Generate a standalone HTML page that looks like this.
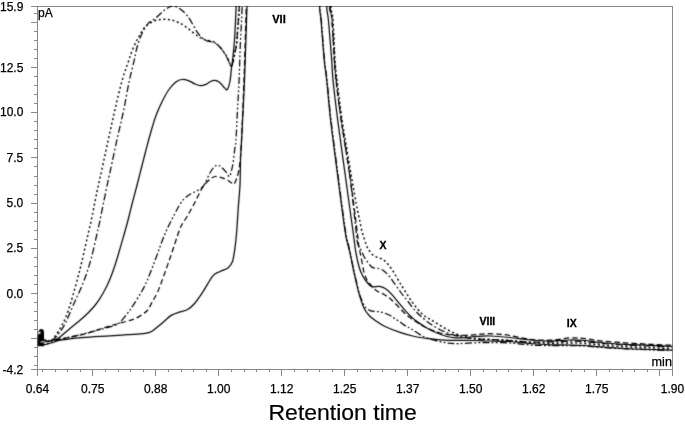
<!DOCTYPE html>
<html><head><meta charset="utf-8"><title>Chromatogram</title>
<style>html,body{margin:0;padding:0;background:#fff;}body{width:685px;height:425px;overflow:hidden;}svg{display:block;font-family:"Liberation Sans",Arial,sans-serif;}</style>
</head><body>
<svg width="685" height="425" viewBox="0 0 685 425">
<defs><filter id="soft" color-interpolation-filters="sRGB" filterUnits="userSpaceOnUse" x="0" y="0" width="685" height="425"><feConvolveMatrix order="3" kernelMatrix="1 2 1 2 16 2 1 2 1" divisor="28" edgeMode="none"/></filter>
<clipPath id="plot"><rect x="37.40" y="6.00" width="635.04" height="365.41"/></clipPath></defs>
<rect width="685" height="425" fill="#fff"/>
<g stroke="#888" stroke-width="1" fill="none" shape-rendering="crispEdges"><path d="M31.1 6.0 H672.4 V375.7"/><path d="M37.4 6.0 V375.7"/><path d="M31.1 369.4 H672.4"/><path d="M34.4 13.2 H37.4"/><path d="M31.1 22.3 H37.4"/><path d="M34.4 31.3 H37.4"/><path d="M34.4 40.4 H37.4"/><path d="M34.4 49.4 H37.4"/><path d="M34.4 58.4 H37.4"/><path d="M31.1 67.5 H37.4"/><path d="M34.4 76.5 H37.4"/><path d="M34.4 85.6 H37.4"/><path d="M34.4 94.6 H37.4"/><path d="M34.4 103.6 H37.4"/><path d="M31.1 112.7 H37.4"/><path d="M34.4 121.7 H37.4"/><path d="M34.4 130.8 H37.4"/><path d="M34.4 139.8 H37.4"/><path d="M34.4 148.8 H37.4"/><path d="M31.1 157.9 H37.4"/><path d="M34.4 166.9 H37.4"/><path d="M34.4 176.0 H37.4"/><path d="M34.4 185.0 H37.4"/><path d="M34.4 194.0 H37.4"/><path d="M31.1 203.1 H37.4"/><path d="M34.4 212.1 H37.4"/><path d="M34.4 221.2 H37.4"/><path d="M34.4 230.2 H37.4"/><path d="M34.4 239.2 H37.4"/><path d="M31.1 248.3 H37.4"/><path d="M34.4 257.3 H37.4"/><path d="M34.4 266.4 H37.4"/><path d="M34.4 275.4 H37.4"/><path d="M34.4 284.4 H37.4"/><path d="M31.1 293.5 H37.4"/><path d="M34.4 302.5 H37.4"/><path d="M34.4 311.6 H37.4"/><path d="M34.4 320.6 H37.4"/><path d="M34.4 329.6 H37.4"/><path d="M31.1 338.7 H37.4"/><path d="M34.4 347.7 H37.4"/><path d="M34.4 356.8 H37.4"/><path d="M34.4 365.8 H37.4"/><path d="M42.4 369.4 V372.4"/><path d="M55.0 369.4 V372.4"/><path d="M67.6 369.4 V372.4"/><path d="M80.2 369.4 V372.4"/><path d="M92.8 369.4 V375.7"/><path d="M105.4 369.4 V372.4"/><path d="M118.0 369.4 V372.4"/><path d="M130.6 369.4 V372.4"/><path d="M143.2 369.4 V372.4"/><path d="M155.8 369.4 V375.7"/><path d="M168.4 369.4 V372.4"/><path d="M181.0 369.4 V372.4"/><path d="M193.6 369.4 V372.4"/><path d="M206.2 369.4 V372.4"/><path d="M218.8 369.4 V375.7"/><path d="M231.4 369.4 V372.4"/><path d="M244.0 369.4 V372.4"/><path d="M256.6 369.4 V372.4"/><path d="M269.2 369.4 V372.4"/><path d="M281.8 369.4 V375.7"/><path d="M294.4 369.4 V372.4"/><path d="M307.0 369.4 V372.4"/><path d="M319.6 369.4 V372.4"/><path d="M332.2 369.4 V372.4"/><path d="M344.8 369.4 V375.7"/><path d="M357.4 369.4 V372.4"/><path d="M370.0 369.4 V372.4"/><path d="M382.6 369.4 V372.4"/><path d="M395.2 369.4 V372.4"/><path d="M407.8 369.4 V375.7"/><path d="M420.4 369.4 V372.4"/><path d="M433.0 369.4 V372.4"/><path d="M445.6 369.4 V372.4"/><path d="M458.2 369.4 V372.4"/><path d="M470.8 369.4 V375.7"/><path d="M483.4 369.4 V372.4"/><path d="M496.0 369.4 V372.4"/><path d="M508.6 369.4 V372.4"/><path d="M521.2 369.4 V372.4"/><path d="M533.8 369.4 V375.7"/><path d="M546.4 369.4 V372.4"/><path d="M559.0 369.4 V372.4"/><path d="M571.6 369.4 V372.4"/><path d="M584.2 369.4 V372.4"/><path d="M596.8 369.4 V375.7"/><path d="M609.4 369.4 V372.4"/><path d="M622.0 369.4 V372.4"/><path d="M634.6 369.4 V372.4"/><path d="M647.2 369.4 V372.4"/><path d="M659.8 369.4 V375.7"/></g>
<g filter="url(#soft)"><g clip-path="url(#plot)" fill="none" stroke="#000" stroke-linejoin="round">
<path stroke-width="1.25" d="M38.00 342.50 C39.33 342.33 43.67 341.83 46.00 341.50 C48.33 341.17 50.10 340.95 52.00 340.50 C53.90 340.05 55.40 339.97 57.40 338.80 C59.40 337.63 61.85 335.27 64.00 333.50 C66.15 331.73 67.97 330.12 70.30 328.20 C72.63 326.28 75.72 323.90 78.00 322.00 C80.28 320.10 82.17 318.47 84.00 316.80 C85.83 315.13 87.33 313.72 89.00 312.00 C90.67 310.28 92.33 308.53 94.00 306.50 C95.67 304.47 97.33 302.30 99.00 299.80 C100.67 297.30 102.42 294.38 104.00 291.50 C105.58 288.62 107.08 285.67 108.50 282.50 C109.92 279.33 111.17 276.17 112.50 272.50 C113.83 268.83 115.17 264.78 116.50 260.50 C117.83 256.22 119.17 251.38 120.50 246.80 C121.83 242.22 123.22 237.55 124.50 233.00 C125.78 228.45 126.83 224.75 128.20 219.50 C129.57 214.25 131.20 207.33 132.70 201.50 C134.20 195.67 135.82 189.83 137.20 184.50 C138.58 179.17 139.75 174.42 141.00 169.50 C142.25 164.58 143.45 159.83 144.70 155.00 C145.95 150.17 147.23 145.17 148.50 140.50 C149.77 135.83 151.05 131.17 152.30 127.00 C153.55 122.83 154.50 119.47 156.00 115.50 C157.50 111.53 159.20 107.45 161.30 103.20 C163.40 98.95 166.17 93.53 168.60 90.00 C171.03 86.47 173.70 83.75 175.90 82.00 C178.10 80.25 179.62 79.70 181.80 79.50 C183.98 79.30 186.80 80.05 189.00 80.80 C191.20 81.55 193.08 83.18 195.00 84.00 C196.92 84.82 198.67 85.65 200.50 85.70 C202.33 85.75 204.33 85.00 206.00 84.30 C207.67 83.60 209.08 82.17 210.50 81.50 C211.92 80.83 213.02 80.18 214.50 80.30 C215.98 80.42 217.65 80.85 219.40 82.20 C221.15 83.55 223.67 87.20 225.00 88.40 C226.33 89.60 226.57 90.63 227.40 89.40 C228.23 88.17 229.30 84.73 230.00 81.00 C230.70 77.27 231.12 70.90 231.60 67.00 C232.08 63.10 232.42 62.10 232.90 57.60 C233.38 53.10 233.95 48.60 234.50 40.00 C235.05 31.40 235.62 19.33 236.20 6.00 C236.78 -7.33 223.20 -32.33 238.00 -40.00 C252.80 -47.67 310.22 -47.67 325.00 -40.00 C339.78 -32.33 326.13 -4.00 326.70 6.00 C327.27 16.00 327.57 11.00 328.40 20.00 C329.23 29.00 330.93 50.00 331.70 60.00 C332.47 70.00 332.00 70.00 333.00 80.00 C334.00 90.00 335.62 103.83 337.70 120.00 C339.78 136.17 342.87 157.83 345.50 177.00 C348.13 196.17 351.77 222.40 353.50 235.00 C355.23 247.60 354.92 247.10 355.90 252.60 C356.88 258.10 358.23 264.07 359.40 268.00 C360.57 271.93 361.60 273.78 362.90 276.20 C364.20 278.62 365.67 280.73 367.20 282.50 C368.73 284.27 370.07 286.17 372.10 286.80 C374.13 287.43 377.20 286.02 379.40 286.30 C381.60 286.58 383.35 287.28 385.30 288.50 C387.25 289.72 388.92 291.30 391.10 293.60 C393.28 295.90 395.97 299.38 398.40 302.30 C400.83 305.22 403.27 308.42 405.70 311.10 C408.13 313.78 411.03 316.60 413.00 318.40 C414.97 320.20 415.28 320.35 417.50 321.90 C419.72 323.45 423.13 325.88 426.30 327.70 C429.47 329.52 433.10 331.33 436.50 332.80 C439.90 334.27 443.53 335.67 446.70 336.50 C449.87 337.33 452.45 337.63 455.50 337.80 C458.55 337.97 461.42 337.73 465.00 337.50 C468.58 337.27 472.83 336.65 477.00 336.40 C481.17 336.15 484.50 335.82 490.00 336.00 C495.50 336.18 503.33 336.83 510.00 337.50 C516.67 338.17 523.33 339.42 530.00 340.00 C536.67 340.58 543.33 341.00 550.00 341.00 C556.67 341.00 564.17 340.08 570.00 340.00 C575.83 339.92 580.00 340.08 585.00 340.50 C590.00 340.92 593.33 341.87 600.00 342.50 C606.67 343.13 616.67 343.83 625.00 344.30 C633.33 344.77 642.10 344.97 650.00 345.30 C657.90 345.63 668.67 346.13 672.40 346.30"/>
<path stroke-width="1.25" d="M38.00 345.50 C39.33 345.30 43.50 344.80 46.00 344.30 C48.50 343.80 50.67 343.18 53.00 342.50 C55.33 341.82 55.17 341.02 60.00 340.20 C64.83 339.38 73.67 338.32 82.00 337.60 C90.33 336.88 102.42 336.38 110.00 335.90 C117.58 335.42 121.67 335.12 127.50 334.70 C133.33 334.28 140.92 333.98 145.00 333.40 C149.08 332.82 149.37 332.73 152.00 331.20 C154.63 329.67 157.58 326.83 160.80 324.20 C164.02 321.57 168.08 317.45 171.30 315.40 C174.52 313.35 177.47 312.83 180.10 311.90 C182.73 310.97 184.77 311.12 187.10 309.80 C189.43 308.48 191.47 307.00 194.10 304.00 C196.73 301.00 199.77 296.48 202.90 291.80 C206.03 287.12 210.05 279.28 212.90 275.90 C215.75 272.52 217.50 272.83 220.00 271.50 C222.50 270.17 225.83 269.52 227.90 267.90 C229.97 266.28 231.22 265.18 232.40 261.80 C233.58 258.42 234.27 252.90 235.00 247.60 C235.73 242.30 236.27 236.52 236.80 230.00 C237.33 223.48 237.67 216.00 238.20 208.50 C238.73 201.00 239.60 193.48 240.00 185.00 C240.40 176.52 240.33 165.10 240.60 157.60 C240.87 150.10 240.95 152.93 241.60 140.00 C242.25 127.07 243.60 102.33 244.50 80.00 C245.40 57.67 246.25 26.00 247.00 6.00 C247.75 -14.00 237.17 -32.33 249.00 -40.00 C260.83 -47.67 306.25 -47.67 318.00 -40.00 C329.75 -32.33 319.00 -4.00 319.50 6.00 C320.00 16.00 320.22 11.00 321.00 20.00 C321.78 29.00 323.25 50.00 324.20 60.00 C325.15 70.00 325.63 70.00 326.70 80.00 C327.77 90.00 328.78 104.17 330.60 120.00 C332.42 135.83 335.22 156.67 337.60 175.00 C339.98 193.33 343.17 218.33 344.90 230.00 C346.63 241.67 347.15 241.23 348.00 245.00 C348.85 248.77 349.08 248.38 350.00 252.60 C350.92 256.82 352.58 265.90 353.50 270.30 C354.42 274.70 354.58 275.12 355.50 279.00 C356.42 282.88 357.57 288.73 359.00 293.60 C360.43 298.47 362.40 304.55 364.10 308.20 C365.80 311.85 367.13 313.32 369.20 315.50 C371.27 317.68 373.87 319.47 376.50 321.30 C379.13 323.13 381.08 324.65 385.00 326.50 C388.92 328.35 395.07 330.73 400.00 332.40 C404.93 334.07 409.73 335.45 414.60 336.50 C419.47 337.55 424.33 338.10 429.20 338.70 C434.07 339.30 438.93 339.83 443.80 340.10 C448.67 340.37 453.20 340.23 458.40 340.30 C463.60 340.37 469.73 340.38 475.00 340.50 C480.27 340.62 484.17 340.83 490.00 341.00 C495.83 341.17 503.33 341.08 510.00 341.50 C516.67 341.92 523.33 342.95 530.00 343.50 C536.67 344.05 543.33 344.55 550.00 344.80 C556.67 345.05 564.17 344.88 570.00 345.00 C575.83 345.12 580.00 345.20 585.00 345.50 C590.00 345.80 593.33 346.30 600.00 346.80 C606.67 347.30 616.67 348.05 625.00 348.50 C633.33 348.95 642.10 349.22 650.00 349.50 C657.90 349.78 668.67 350.08 672.40 350.20"/>
<path stroke-width="1.25" stroke-dasharray="5.5 3" d="M38.00 343.00 C41.25 342.42 50.17 340.88 57.50 339.50 C64.83 338.12 73.25 336.97 82.00 334.70 C90.75 332.43 102.70 328.10 110.00 325.90 C117.30 323.70 121.42 322.82 125.80 321.50 C130.18 320.18 132.80 319.75 136.30 318.00 C139.80 316.25 144.18 313.62 146.80 311.00 C149.42 308.38 150.25 305.37 152.00 302.30 C153.75 299.23 155.67 296.12 157.30 292.60 C158.93 289.08 159.58 287.22 161.80 281.20 C164.02 275.18 167.67 265.03 170.60 256.50 C173.53 247.97 177.53 235.25 179.40 230.00 C181.27 224.75 180.43 227.40 181.80 225.00 C183.17 222.60 185.65 218.93 187.60 215.60 C189.55 212.27 191.53 208.73 193.50 205.00 C195.47 201.27 197.73 196.38 199.40 193.20 C201.07 190.02 201.63 188.30 203.50 185.90 C205.37 183.50 208.63 180.37 210.60 178.80 C212.57 177.23 213.53 176.70 215.30 176.50 C217.07 176.30 219.23 177.02 221.20 177.60 C223.17 178.18 225.33 179.10 227.10 180.00 C228.87 180.90 230.63 182.32 231.80 183.00 C232.97 183.68 233.32 184.80 234.10 184.10 C234.88 183.40 235.72 181.05 236.50 178.80 C237.28 176.55 238.18 173.73 238.80 170.60 C239.42 167.47 239.75 165.10 240.20 160.00 C240.65 154.90 240.87 153.33 241.50 140.00 C242.13 126.67 243.20 102.33 244.00 80.00 C244.80 57.67 245.63 26.00 246.30 6.00 C246.97 -14.00 234.38 -32.33 248.00 -40.00 C261.62 -47.67 314.42 -47.67 328.00 -40.00 C341.58 -32.33 328.83 -4.00 329.50 6.00 C330.17 16.00 331.20 11.00 332.00 20.00 C332.80 29.00 333.63 50.00 334.30 60.00 C334.97 70.00 334.85 70.00 336.00 80.00 C337.15 90.00 338.87 103.83 341.20 120.00 C343.53 136.17 347.37 158.67 350.00 177.00 C352.63 195.33 355.58 218.83 357.00 230.00 C358.42 241.17 358.00 240.33 358.50 244.00 C359.00 247.67 359.42 249.00 360.00 252.00 C360.58 255.00 361.33 258.62 362.00 262.00 C362.67 265.38 363.17 269.30 364.00 272.30 C364.83 275.30 365.88 277.92 367.00 280.00 C368.12 282.08 369.12 283.02 370.70 284.80 C372.28 286.58 374.32 289.12 376.50 290.70 C378.68 292.28 381.37 292.85 383.80 294.30 C386.23 295.75 388.67 297.33 391.10 299.40 C393.53 301.47 395.72 304.02 398.40 306.70 C401.08 309.38 404.52 313.18 407.20 315.50 C409.88 317.82 411.53 318.68 414.50 320.60 C417.47 322.52 420.75 324.93 425.00 327.00 C429.25 329.07 435.00 331.62 440.00 333.00 C445.00 334.38 450.67 334.92 455.00 335.30 C459.33 335.68 462.33 335.43 466.00 335.30 C469.67 335.17 473.33 334.78 477.00 334.50 C480.67 334.22 484.17 333.63 488.00 333.60 C491.83 333.57 496.33 333.98 500.00 334.30 C503.67 334.62 505.00 334.67 510.00 335.50 C515.00 336.33 523.33 338.52 530.00 339.30 C536.67 340.08 543.33 340.43 550.00 340.20 C556.67 339.97 564.17 338.17 570.00 337.90 C575.83 337.63 580.00 338.12 585.00 338.60 C590.00 339.08 593.33 340.10 600.00 340.80 C606.67 341.50 616.67 342.22 625.00 342.80 C633.33 343.38 642.10 343.88 650.00 344.30 C657.90 344.72 668.67 345.13 672.40 345.30"/>
<path stroke-width="1.45" stroke-dasharray="2 2.6" d="M38.00 343.00 C40.00 342.67 47.17 342.08 50.00 341.00 C52.83 339.92 53.18 338.83 55.00 336.50 C56.82 334.17 59.13 330.15 60.90 327.00 C62.67 323.85 63.98 321.57 65.60 317.60 C67.22 313.63 68.60 309.72 70.60 303.20 C72.60 296.68 75.72 285.48 77.60 278.50 C79.48 271.52 79.97 269.52 81.90 261.30 C83.83 253.08 87.67 235.87 89.20 229.20 C90.73 222.53 89.82 227.48 91.10 221.30 C92.38 215.12 95.12 200.67 96.90 192.10 C98.68 183.53 99.88 178.72 101.80 169.90 C103.72 161.08 106.22 149.18 108.40 139.20 C110.58 129.22 112.65 119.65 114.90 110.00 C117.15 100.35 119.63 89.42 121.90 81.30 C124.17 73.18 126.92 66.08 128.50 61.30 C130.08 56.52 130.18 55.77 131.40 52.60 C132.62 49.43 134.47 45.10 135.80 42.30 C137.13 39.50 138.07 38.10 139.40 35.80 C140.73 33.50 142.10 30.57 143.80 28.50 C145.50 26.43 147.42 24.80 149.60 23.40 C151.78 22.00 154.47 20.78 156.90 20.10 C159.33 19.42 161.77 19.30 164.20 19.30 C166.63 19.30 169.07 19.55 171.50 20.10 C173.93 20.65 176.37 21.45 178.80 22.60 C181.23 23.75 183.67 25.30 186.10 27.00 C188.53 28.70 191.08 31.05 193.40 32.80 C195.72 34.55 198.20 36.38 200.00 37.50 C201.80 38.62 202.53 38.92 204.20 39.50 C205.87 40.08 208.13 40.45 210.00 41.00 C211.87 41.55 213.43 41.40 215.40 42.80 C217.37 44.20 219.87 47.03 221.80 49.40 C223.73 51.77 225.47 54.23 227.00 57.00 C228.53 59.77 230.00 65.17 231.00 66.00 C232.00 66.83 232.33 64.33 233.00 62.00 C233.67 59.67 234.42 54.83 235.00 52.00 C235.58 49.17 236.00 49.50 236.50 45.00 C237.00 40.50 237.53 31.50 238.00 25.00 C238.47 18.50 238.88 16.83 239.30 6.00 C239.72 -4.83 225.47 -32.33 240.50 -40.00 C255.53 -47.67 314.42 -47.67 329.50 -40.00 C344.58 -32.33 330.42 -4.00 331.00 6.00 C331.58 16.00 332.33 11.00 333.00 20.00 C333.67 29.00 334.33 50.00 335.00 60.00 C335.67 70.00 335.83 70.00 337.00 80.00 C338.17 90.00 340.33 108.33 342.00 120.00 C343.67 131.67 345.33 140.00 347.00 150.00 C348.67 160.00 350.42 170.83 352.00 180.00 C353.58 189.17 355.17 198.00 356.50 205.00 C357.83 212.00 359.15 217.83 360.00 222.00 C360.85 226.17 361.08 227.83 361.60 230.00 C362.12 232.17 362.48 233.00 363.10 235.00 C363.72 237.00 364.45 239.65 365.30 242.00 C366.15 244.35 366.83 246.83 368.20 249.10 C369.57 251.37 371.63 254.13 373.50 255.60 C375.37 257.07 377.63 257.12 379.40 257.90 C381.17 258.68 382.73 259.32 384.10 260.30 C385.47 261.28 386.42 262.43 387.60 263.80 C388.78 265.17 390.02 266.83 391.20 268.50 C392.38 270.17 393.32 271.52 394.70 273.80 C396.08 276.08 398.20 280.00 399.50 282.20 C400.80 284.40 401.07 284.72 402.50 287.00 C403.93 289.28 406.15 292.93 408.10 295.90 C410.05 298.87 412.00 301.90 414.20 304.80 C416.40 307.70 419.17 311.18 421.30 313.30 C423.43 315.42 424.97 316.17 427.00 317.50 C429.03 318.83 430.70 319.60 433.50 321.30 C436.30 323.00 440.13 325.65 443.80 327.70 C447.47 329.75 452.10 332.13 455.50 333.60 C458.90 335.07 460.95 335.68 464.20 336.50 C467.45 337.32 470.70 338.00 475.00 338.50 C479.30 339.00 484.17 339.17 490.00 339.50 C495.83 339.83 503.33 340.00 510.00 340.50 C516.67 341.00 523.33 342.05 530.00 342.50 C536.67 342.95 543.33 343.12 550.00 343.20 C556.67 343.28 564.17 342.95 570.00 343.00 C575.83 343.05 580.00 343.17 585.00 343.50 C590.00 343.83 593.33 344.45 600.00 345.00 C606.67 345.55 616.67 346.33 625.00 346.80 C633.33 347.27 642.10 347.52 650.00 347.80 C657.90 348.08 668.67 348.38 672.40 348.50"/>
<path stroke-width="1.25" stroke-dasharray="7 2.5 1.8 2.5" d="M38.00 343.00 C40.00 342.67 47.17 341.83 50.00 341.00 C52.83 340.17 53.33 339.50 55.00 338.00 C56.67 336.50 58.17 334.67 60.00 332.00 C61.83 329.33 63.65 326.80 66.00 322.00 C68.35 317.20 71.18 309.87 74.10 303.20 C77.02 296.53 80.65 289.45 83.50 282.00 C86.35 274.55 88.78 267.30 91.20 258.50 C93.62 249.70 96.57 235.40 98.00 229.20 C99.43 223.00 98.52 227.48 99.80 221.30 C101.08 215.12 103.92 200.67 105.70 192.10 C107.48 183.53 108.60 178.72 110.50 169.90 C112.40 161.08 114.90 149.18 117.10 139.20 C119.30 129.22 121.68 119.65 123.70 110.00 C125.72 100.35 127.43 89.65 129.20 81.30 C130.97 72.95 132.97 65.67 134.30 59.90 C135.63 54.13 135.87 51.22 137.20 46.70 C138.53 42.18 140.47 36.68 142.30 32.80 C144.13 28.92 146.00 25.83 148.20 23.40 C150.40 20.97 152.83 20.40 155.50 18.20 C158.17 16.00 161.77 12.13 164.20 10.20 C166.63 8.27 168.63 7.37 170.10 6.60 C171.57 5.83 172.03 5.60 173.00 5.60 C173.97 5.60 174.43 5.83 175.90 6.60 C177.37 7.37 179.85 8.62 181.80 10.20 C183.75 11.78 185.67 13.55 187.60 16.10 C189.53 18.65 191.83 22.88 193.40 25.50 C194.97 28.12 195.60 29.78 197.00 31.80 C198.40 33.82 200.22 36.13 201.80 37.60 C203.38 39.07 204.93 39.90 206.50 40.60 C208.07 41.30 209.63 41.32 211.20 41.80 C212.77 42.28 214.13 42.23 215.90 43.50 C217.67 44.77 219.85 46.85 221.80 49.40 C223.75 51.95 226.03 55.87 227.60 58.80 C229.17 61.73 230.30 66.47 231.20 67.00 C232.10 67.53 232.37 64.50 233.00 62.00 C233.63 59.50 234.42 54.83 235.00 52.00 C235.58 49.17 236.00 49.50 236.50 45.00 C237.00 40.50 237.53 31.50 238.00 25.00 C238.47 18.50 238.88 16.83 239.30 6.00 C239.72 -4.83 225.63 -32.33 240.50 -40.00 C255.37 -47.67 313.58 -47.67 328.50 -40.00 C343.42 -32.33 329.42 -4.00 330.00 6.00 C330.58 16.00 331.25 11.00 332.00 20.00 C332.75 29.00 333.80 50.00 334.50 60.00 C335.20 70.00 335.08 70.00 336.20 80.00 C337.32 90.00 338.90 103.83 341.20 120.00 C343.50 136.17 347.53 158.67 350.00 177.00 C352.47 195.33 354.73 219.00 356.00 230.00 C357.27 241.00 356.73 239.62 357.60 243.00 C358.47 246.38 360.12 248.00 361.20 250.30 C362.28 252.60 363.03 254.85 364.10 256.80 C365.17 258.75 366.22 260.23 367.60 262.00 C368.98 263.77 370.63 266.32 372.40 267.40 C374.17 268.48 376.43 268.02 378.20 268.50 C379.97 268.98 381.23 269.12 383.00 270.30 C384.77 271.48 387.33 274.03 388.80 275.60 C390.27 277.17 390.60 278.05 391.80 279.70 C393.00 281.35 394.55 283.45 396.00 285.50 C397.45 287.55 399.17 290.15 400.50 292.00 C401.83 293.85 402.75 295.02 404.00 296.60 C405.25 298.18 406.62 299.73 408.00 301.50 C409.38 303.27 410.95 305.52 412.30 307.20 C413.65 308.88 414.77 310.18 416.10 311.60 C417.43 313.02 418.82 314.33 420.30 315.70 C421.78 317.07 423.05 318.25 425.00 319.80 C426.95 321.35 428.87 323.07 432.00 325.00 C435.13 326.93 439.13 329.43 443.80 331.40 C448.47 333.37 454.80 335.53 460.00 336.80 C465.20 338.07 470.00 338.55 475.00 339.00 C480.00 339.45 484.17 339.25 490.00 339.50 C495.83 339.75 503.33 340.08 510.00 340.50 C516.67 340.92 523.33 341.75 530.00 342.00 C536.67 342.25 543.33 342.13 550.00 342.00 C556.67 341.87 564.17 341.27 570.00 341.20 C575.83 341.13 580.00 341.27 585.00 341.60 C590.00 341.93 593.33 342.63 600.00 343.20 C606.67 343.77 616.67 344.53 625.00 345.00 C633.33 345.47 642.10 345.70 650.00 346.00 C657.90 346.30 668.67 346.67 672.40 346.80"/>
<path stroke-width="1.25" stroke-dasharray="7 2.3 1.8 2.3 1.8 2.3" d="M38.00 345.00 C39.50 344.83 43.75 344.87 47.00 344.00 C50.25 343.13 51.67 341.43 57.50 339.80 C63.33 338.17 73.25 336.37 82.00 334.20 C90.75 332.03 103.87 328.62 110.00 326.80 C116.13 324.98 116.03 325.35 118.80 323.30 C121.57 321.25 124.27 317.42 126.60 314.50 C128.93 311.58 130.32 309.58 132.80 305.80 C135.28 302.02 139.07 296.10 141.50 291.80 C143.93 287.50 144.93 285.80 147.40 280.00 C149.87 274.20 153.78 263.67 156.30 257.00 C158.82 250.33 160.50 245.08 162.50 240.00 C164.50 234.92 166.28 230.80 168.30 226.50 C170.32 222.20 172.78 217.70 174.60 214.20 C176.42 210.70 177.67 208.00 179.20 205.50 C180.73 203.00 182.25 200.90 183.80 199.20 C185.35 197.50 186.88 196.42 188.50 195.30 C190.12 194.18 191.38 193.68 193.50 192.50 C195.62 191.32 199.43 189.45 201.20 188.20 C202.97 186.95 203.12 186.57 204.10 185.00 C205.08 183.43 206.02 181.00 207.10 178.80 C208.18 176.60 209.43 173.77 210.60 171.80 C211.77 169.83 212.93 168.08 214.10 167.00 C215.27 165.92 216.42 165.30 217.60 165.30 C218.78 165.30 219.82 165.92 221.20 167.00 C222.58 168.08 224.53 170.22 225.90 171.80 C227.27 173.38 228.42 176.90 229.40 176.50 C230.38 176.10 231.12 172.15 231.80 169.40 C232.48 166.65 233.02 163.33 233.50 160.00 C233.98 156.67 234.30 152.53 234.70 149.40 C235.10 146.27 235.43 147.77 235.90 141.20 C236.37 134.63 236.97 120.20 237.50 110.00 C238.03 99.80 238.63 90.83 239.10 80.00 C239.57 69.17 239.78 57.33 240.30 45.00 C240.82 32.67 241.67 20.17 242.20 6.00 C242.73 -8.17 230.78 -32.33 243.50 -40.00 C256.22 -47.67 305.78 -47.67 318.50 -40.00 C331.22 -32.33 319.33 -4.00 319.80 6.00 C320.27 16.00 320.52 11.00 321.30 20.00 C322.08 29.00 323.55 50.00 324.50 60.00 C325.45 70.00 325.92 70.00 327.00 80.00 C328.08 90.00 329.17 104.17 331.00 120.00 C332.83 135.83 335.62 156.67 338.00 175.00 C340.38 193.33 343.55 218.33 345.30 230.00 C347.05 241.67 347.63 240.83 348.50 245.00 C349.37 249.17 349.62 250.83 350.50 255.00 C351.38 259.17 352.88 265.83 353.80 270.00 C354.72 274.17 355.05 276.00 356.00 280.00 C356.95 284.00 358.42 290.33 359.50 294.00 C360.58 297.67 361.62 299.88 362.50 302.00 C363.38 304.12 363.50 305.27 364.80 306.70 C366.10 308.13 368.43 309.80 370.30 310.60 C372.17 311.40 373.97 311.20 376.00 311.50 C378.03 311.80 380.22 311.77 382.50 312.40 C384.78 313.03 387.62 314.23 389.70 315.30 C391.78 316.37 393.28 317.70 395.00 318.80 C396.72 319.90 398.23 320.72 400.00 321.90 C401.77 323.08 403.65 324.68 405.60 325.90 C407.55 327.12 408.73 327.43 411.70 329.20 C414.67 330.97 419.27 334.55 423.40 336.50 C427.53 338.45 432.37 339.80 436.50 340.90 C440.63 342.00 444.55 342.65 448.20 343.10 C451.85 343.55 453.93 343.65 458.40 343.60 C462.87 343.55 469.73 342.97 475.00 342.80 C480.27 342.63 484.17 342.57 490.00 342.60 C495.83 342.63 503.33 342.60 510.00 343.00 C516.67 343.40 523.33 344.57 530.00 345.00 C536.67 345.43 543.33 345.50 550.00 345.60 C556.67 345.70 564.17 345.53 570.00 345.60 C575.83 345.67 580.00 345.72 585.00 346.00 C590.00 346.28 593.33 346.83 600.00 347.30 C606.67 347.77 616.67 348.38 625.00 348.80 C633.33 349.22 642.10 349.52 650.00 349.80 C657.90 350.08 668.67 350.38 672.40 350.50"/>
<path fill="#000" stroke="none" d="M37.4 346.3 L37.4 336 L38.3 334.5 L38.5 331.5 Q39.3 329 41.5 329.1 Q44 329.5 44 332.5 L44 339.3 L46.5 339.8 L47 341.2 L43.5 342 L44 346.3 Z"/>
<path fill="#fff" stroke="none" d="M38.6 332.3 L40.4 331.6 L40.6 333.4 L38.8 334.2 Z M40.5 341.6 L45 341.2 L45 342.3 L40.5 342.6 Z"/>
</g></g>
<g font-size="12" fill="#000" stroke="#000" stroke-width="0.25" text-anchor="end"><text x="23.3" y="10.7">15.9</text><text x="23.3" y="72.4">12.5</text><text x="23.3" y="116.4">10.0</text><text x="23.3" y="162.1">7.5</text><text x="23.3" y="207.2">5.0</text><text x="23.3" y="252.4">2.5</text><text x="23.3" y="297.7">0.0</text><text x="23.3" y="373.6">-4.2</text></g>
<g font-size="12" fill="#000" stroke="#000" stroke-width="0.25" text-anchor="middle"><text x="37.4" y="393.0">0.64</text><text x="92.8" y="393.0">0.75</text><text x="155.8" y="393.0">0.88</text><text x="218.8" y="393.0">1.00</text><text x="281.8" y="393.0">1.12</text><text x="344.8" y="393.0">1.25</text><text x="407.8" y="393.0">1.37</text><text x="470.8" y="393.0">1.50</text><text x="533.8" y="393.0">1.62</text><text x="596.8" y="393.0">1.75</text><text x="672.4" y="393.0">1.90</text></g>
<g font-size="12" fill="#000" stroke="#000" stroke-width="0.25"><text x="38.0" y="17.2">pA</text><text x="671.9" y="366.4" text-anchor="end" font-size="12.6">min</text></g>
<text transform="translate(342.6 419.7) scale(1.045 1)" x="0" y="0" font-size="22" fill="#000" stroke="#000" stroke-width="0.2" text-anchor="middle">Retention time</text>
<g font-weight="bold" fill="#000" stroke="#000" stroke-width="0.3" font-size="10.5"><text x="279" y="23" text-anchor="middle" font-size="11">VII</text><text x="487.4" y="324.9" text-anchor="middle">VIII</text><text x="571.8" y="326.6" text-anchor="middle">IX</text><text x="383" y="248.9" text-anchor="middle" font-size="10.5">X</text></g>
</svg>
</body></html>
